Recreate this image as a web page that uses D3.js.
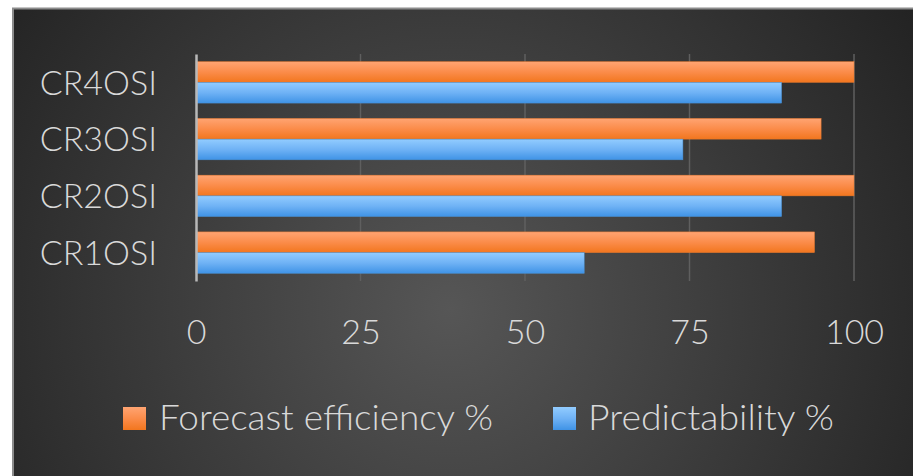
<!DOCTYPE html>
<html>
<head>
<meta charset="utf-8">
<script src="https://cdn.jsdelivr.net/npm/d3@7"></script>
<style>
  html, body { margin: 0; padding: 0; background: #ffffff; }
  svg { display: block; }
  text { font-family: Lato, "Open Sans", sans-serif; font-weight: 300; fill: #d9d9d9; }
</style>
</head>
<body>
<svg id="chart" width="913" height="476"></svg>
<script>
// ---- data ----
const categories = ["CR4OSI", "CR3OSI", "CR2OSI", "CR1OSI"];
const seriesNames = ["Forecast efficiency %", "Predictability %"];
const forecastEfficiency = [100, 95, 100, 94];
const predictability = [89, 74, 89, 59];
const xTicks = [0, 25, 50, 75, 100];

// ---- setup ----
const W = 913, H = 476;
const svg = d3.select("#chart");
const defs = svg.append("defs");

const bg = defs.append("radialGradient").attr("id", "bg")
  .attr("gradientUnits", "userSpaceOnUse")
  .attr("cx", 450).attr("cy", 310).attr("r", 560);
bg.append("stop").attr("offset", "0%").attr("stop-color", "#565656");
bg.append("stop").attr("offset", "100%").attr("stop-color", "#222222");

function barGrad(id, top, mid, bottom) {
  const g = defs.append("linearGradient").attr("id", id)
    .attr("x1", 0).attr("y1", 0).attr("x2", 0).attr("y2", 1);
  g.append("stop").attr("offset", "0%").attr("stop-color", top);
  g.append("stop").attr("offset", "50%").attr("stop-color", mid);
  g.append("stop").attr("offset", "100%").attr("stop-color", bottom);
}
barGrad("gOrange", "#ffa472", "#fb8c4a", "#f2761e");
barGrad("gBlue", "#92ccff", "#6fb2f5", "#3f93e6");
const fills = ["url(#gOrange)", "url(#gBlue)"];
const strokes = ["#e5782f", "#4a90d0"];

// background panel
svg.append("rect").attr("x", 13).attr("y", 8.5).attr("width", W).attr("height", H)
  .attr("fill", "url(#bg)").attr("stroke", "#8c8c8c").attr("stroke-width", 2);

// ---- scales ----
const x = d3.scaleLinear().domain([0, 100]).range([196, 854]);
const y = d3.scaleBand().domain(categories).range([54, 281])
  .paddingInner(0.27).paddingOuter(0.135);
const ySub = d3.scaleBand().domain(seriesNames).range([0, y.bandwidth()]);

// gridlines
svg.append("g").selectAll("line").data(xTicks.filter(d => d !== 0)).join("line")
  .attr("x1", d => x(d)).attr("x2", d => x(d))
  .attr("y1", 54).attr("y2", 281)
  .attr("stroke", "#5f5f5f").attr("stroke-width", 1.5);

// bars
const rows = categories.map((c, i) => ({ cat: c, vals: [forecastEfficiency[i], predictability[i]] }));
const groups = svg.append("g").selectAll("g").data(rows).join("g")
  .attr("transform", d => `translate(0,${y(d.cat)})`);
groups.selectAll("rect").data(d => d.vals.map((v, k) => ({ v, k }))).join("rect")
  .attr("x", x(0))
  .attr("y", d => ySub(seriesNames[d.k]))
  .attr("width", d => x(d.v) - x(0))
  .attr("height", ySub.bandwidth())
  .attr("fill", d => fills[d.k])
  .attr("stroke", d => strokes[d.k]).attr("stroke-width", 0.5);

// y axis
const yAxis = svg.append("g").attr("transform", `translate(${x(0)},0)`)
  .call(d3.axisLeft(y).tickSize(0).tickSizeOuter(0).tickPadding(39));
yAxis.select(".domain").attr("stroke", "#b8b8b8").attr("stroke-width", 2.5);
yAxis.selectAll("text").attr("font-size", 34).attr("fill", "#d9d9d9")
  .attr("font-family", "Lato, 'Open Sans', sans-serif").attr("dy", "0.36em");

// x axis
const xAxis = svg.append("g").attr("transform", `translate(0,281)`)
  .call(d3.axisBottom(x).tickValues(xTicks).tickSize(0).tickFormat(d3.format("d")));
xAxis.select(".domain").remove();
xAxis.selectAll("text").attr("font-size", 34).attr("fill", "#d9d9d9")
  .attr("font-family", "Lato, 'Open Sans', sans-serif")
  .attr("y", 63).attr("dy", 0);

// legend
const legendItems = [
  { name: seriesNames[0], sx: 123, tx: 159, len: 334 },
  { name: seriesNames[1], sx: 553, tx: 588, len: 246 }
];
const lg = svg.append("g");
lg.selectAll("rect").data(legendItems).join("rect")
  .attr("x", d => d.sx).attr("y", 407).attr("width", 23).attr("height", 23)
  .attr("fill", (d, i) => fills[i]);
lg.selectAll("text").data(legendItems).join("text")
  .attr("x", d => d.tx).attr("y", 430)
  .attr("font-size", 35)
  .attr("textLength", d => d.len)
  .attr("lengthAdjust", "spacingAndGlyphs")
  .text(d => d.name);
</script>
</body>
</html>
